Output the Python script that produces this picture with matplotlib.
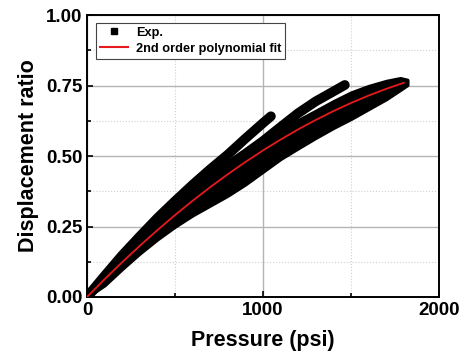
import matplotlib
matplotlib.use("Agg")
import matplotlib.pyplot as plt
from matplotlib.lines import Line2D
from matplotlib.ticker import MultipleLocator

plt.rcParams["font.family"] = ["Liberation Sans", "DejaVu Sans"]
plt.rcParams["font.weight"] = "bold"

band_psi = [0, 100, 200, 300, 400, 500, 600, 700, 800, 900, 1000,
            1100, 1200, 1300, 1400, 1500, 1600, 1700, 1780, 1820]
band_low = [0, 0.042, 0.1, 0.155, 0.205, 0.25, 0.29, 0.325, 0.36, 0.40, 0.445,
            0.49, 0.528, 0.565, 0.60, 0.632, 0.667, 0.702, 0.735, 0.752]
band_high = [0.015, 0.08, 0.145, 0.207, 0.262, 0.312, 0.36, 0.405, 0.45, 0.497, 0.545,
             0.588, 0.627, 0.66, 0.694, 0.725, 0.748, 0.766, 0.776, 0.77]

# upper branches that split off the band
exp_a_psi = [0, 100, 200, 300, 400, 500, 600, 700, 800, 900, 1000, 1045]
exp_a_ratio = [0, 0.075, 0.148, 0.215, 0.28, 0.34, 0.398, 0.453, 0.505, 0.562, 0.617, 0.641]

exp_b_psi = [0, 100, 200, 300, 400, 500, 600, 700, 800, 900, 1000, 1100, 1200, 1300, 1400, 1465]
exp_b_ratio = [0, 0.068, 0.135, 0.2, 0.262, 0.318, 0.37, 0.42, 0.465, 0.508, 0.553,
               0.603, 0.652, 0.694, 0.729, 0.752]

# 2nd order polynomial fit (red line)
fit_psi = [0, 100, 200, 300, 400, 500, 600, 700, 800, 900, 1000,
           1100, 1200, 1300, 1400, 1500, 1600, 1700, 1800]
fit_ratio = [0, 0.063, 0.1235, 0.1816, 0.2372, 0.2905, 0.3412, 0.3895, 0.4354, 0.4788, 0.5198,
             0.5583, 0.5944, 0.6281, 0.6593, 0.688, 0.7144, 0.7382, 0.7597]

fig = plt.figure(figsize=(4.67, 3.58), dpi=100)
ax = fig.add_axes([0.1863, 0.1704, 0.7537, 0.7876])

ax.fill_between(band_psi, band_low, band_high, color="black", lw=2.5, edgecolor="black",
                joinstyle="round", zorder=3)
branch = dict(color="black", lw=7, solid_capstyle="round", solid_joinstyle="round", zorder=3)
ax.plot(exp_a_psi, exp_a_ratio, **branch)
ax.plot(exp_b_psi, exp_b_ratio, **branch)
ax.plot(fit_psi, fit_ratio, color="#e8191c", lw=1.3, zorder=4)

ax.set_xlim(0, 2000)
ax.set_ylim(0, 1.0)
ax.xaxis.set_major_locator(MultipleLocator(1000))
ax.xaxis.set_minor_locator(MultipleLocator(500))
ax.yaxis.set_major_locator(MultipleLocator(0.25))
ax.yaxis.set_minor_locator(MultipleLocator(0.125))
ax.yaxis.set_major_formatter(plt.FormatStrFormatter("%.2f"))

ax.grid(which="major", color="#b4b4b4", lw=1.0, ls="-", zorder=0)
ax.grid(which="minor", color="#d0d0d0", lw=0.8, ls=":", zorder=0)
ax.set_axisbelow(True)

ax.tick_params(which="both", direction="in", labelsize=13.5, width=1.2)
ax.tick_params(which="major", length=4)
ax.tick_params(which="minor", length=3)
for lab in ax.get_xticklabels() + ax.get_yticklabels():
    lab.set_fontweight("bold")
for sp in ax.spines.values():
    sp.set_linewidth(1.4)

ax.set_xlabel("Pressure (psi)", fontsize=15.5, fontweight="bold", labelpad=8)
ax.set_ylabel("Displacement ratio", fontsize=15.5, fontweight="bold", labelpad=5)

handles = [
    Line2D([], [], color="black", marker="s", ls="none", markersize=5),
    Line2D([], [], color="#e8191c", lw=1.5),
]
leg = ax.legend(handles, ["Exp.", "2nd order polynomial fit"], loc="upper left",
                prop={"size": 9.2, "weight": "bold"}, fancybox=False, framealpha=1,
                edgecolor="#444444", borderpad=0.3, labelspacing=0.3,
                handlelength=2.2, handletextpad=0.6, borderaxespad=0.3,
                bbox_to_anchor=(0.015, 0.985))
leg.get_frame().set_linewidth(0.8)

fig.savefig("out.png", dpi=100)
